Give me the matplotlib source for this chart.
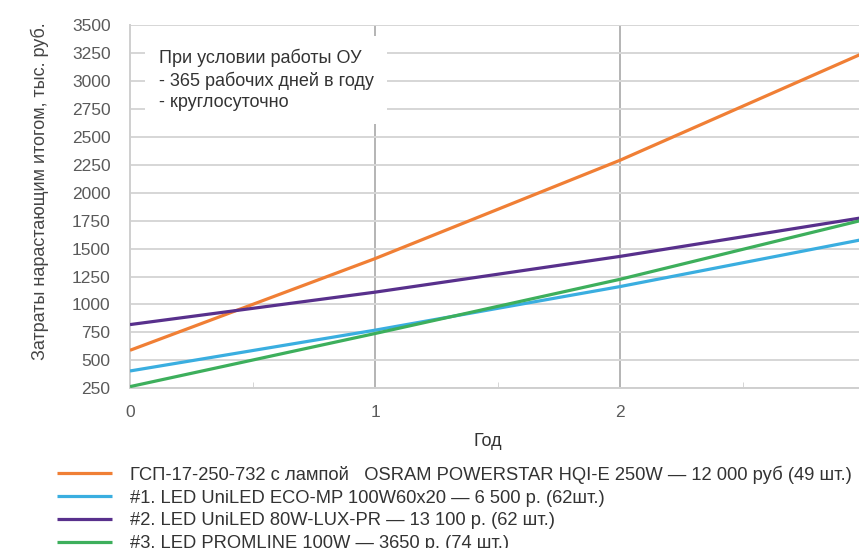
import numpy as np
import matplotlib
matplotlib.use('Agg')
import matplotlib.pyplot as plt
from matplotlib.ticker import MultipleLocator

plt.rcParams['font.family'] = ['Liberation Sans', 'DejaVu Sans']

ORANGE = '#F07F35'; BLUE = '#3AAEE0'; PURPLE = '#58308C'; GREEN = '#3DAF5C'

# ── данные ───────────────────────────────────────────────────────────────
years = [0, 1, 2, 3]
gsp     = [590, 1410, 2290, 3255]
led1    = [405, 770, 1160, 1585]
led2    = [820, 1110, 1430, 1780]
led3    = [265, 740, 1225, 1760]
labels = [
    'ГСП-17-250-732 с лампой   OSRAM POWERSTAR HQI-E 250W — 12 000 руб (49 шт.)',
    '#1. LED UniLED ECO-MP 100W60x20 — 6 500 р. (62шт.)',
    '#2. LED UniLED 80W-LUX-PR — 13 100 р. (62 шт.)',
    '#3. LED PROMLINE 100W — 3650 р. (74 шт.)',
]
y_ticks = list(range(250, 3501, 250))
x_ticks = [0, 1, 2, 3]
note = 'При условии работы ОУ\n- 365 рабочих дней в году\n- круглосуточно'

W, H = 859, 548
fig = plt.figure(figsize=(W/100, H/100), dpi=100)
ax = fig.add_axes([130/W, (H-388.3)/H, (865-130)/W, (388.3-25)/H])

series = [(gsp, ORANGE), (led1, BLUE), (led2, PURPLE), (led3, GREEN)]
handles = []
for vals, col in series:
    h, = ax.plot(years, vals, color=col, lw=2.3, solid_capstyle='butt', zorder=3)
    handles.append(h)

ax.set_xlim(0, 3)
ax.set_ylim(250, 3500)
ax.set_yticks(y_ticks)
ax.set_xticks(x_ticks)
ax.xaxis.set_minor_locator(MultipleLocator(0.5))

ax.grid(axis='y', color='#d6d6d6', lw=1.4, zorder=0)
for xv in [1, 2]:
    ax.axvline(xv, color='#a0a0a0', lw=1.1, zorder=1)
for s in ['top', 'right']:
    ax.spines[s].set_visible(False)
for s in ['left', 'bottom']:
    ax.spines[s].set_color('#cfcfcf')
    ax.spines[s].set_linewidth(1.4)

ax.tick_params(axis='y', length=0, pad=14, labelsize=12.5, labelcolor='#5a5a5a')
ax.tick_params(axis='x', which='major', length=0, pad=12, labelsize=12.5, labelcolor='#5a5a5a')
ax.tick_params(axis='x', which='minor', direction='in', length=4, color='#cfcfcf')

ax.set_xlabel('Год', fontsize=13, color='#333333')
ax.xaxis.set_label_coords((488-130)/735, (388.3-442)/363.3)
ax.xaxis.label.set_va('center')
ax.set_ylabel('Затраты нарастающим итогом, тыс. руб.', fontsize=13, color='#444444')
ax.yaxis.set_label_coords((40-130)/735, (388.3-191)/363.3)
ax.yaxis.label.set_va('center')

ax.text(0.118, 3008, note, fontsize=13, color='#333333', va='center', ha='left',
        linespacing=1.3, zorder=5,
        bbox=dict(facecolor='white', edgecolor='none', boxstyle='square,pad=0.75'))

fig.legend(handles, labels, loc='upper left', bbox_to_anchor=(50/W, 1 - 458/H),
           frameon=False, fontsize=13.25, handlelength=2.95, handletextpad=0.98,
           labelspacing=0.32, borderaxespad=0, labelcolor='#333333')

plt.savefig('out.png', dpi=100)
